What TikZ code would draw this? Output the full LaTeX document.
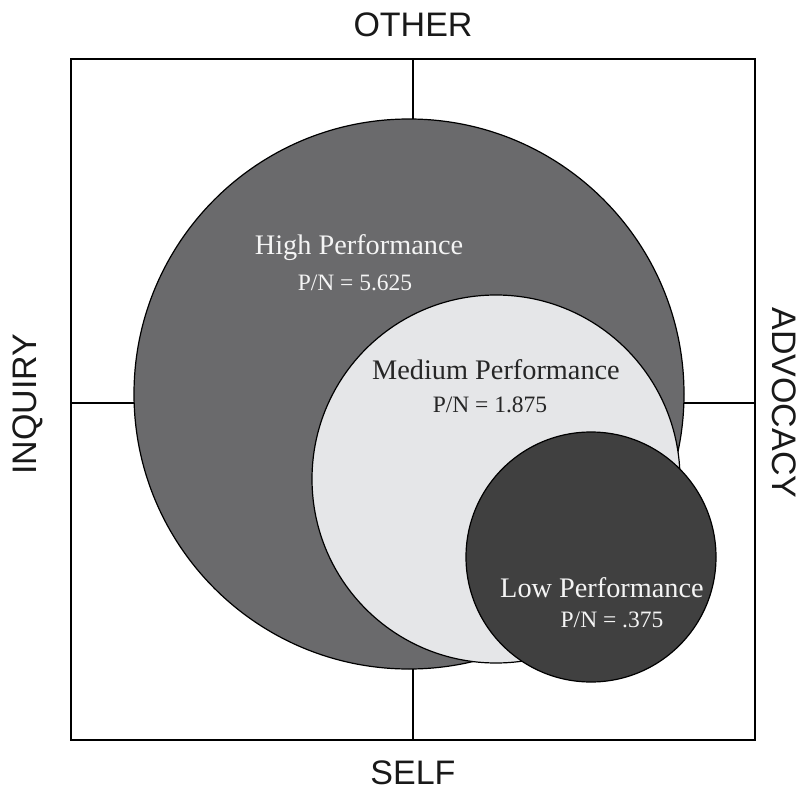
\documentclass[tikz,border=0pt]{standalone}
\usepackage{fontspec}
\setmainfont{Liberation Serif}
\setsansfont{Liberation Sans}
\begin{document}
\begin{tikzpicture}[x=1pt,y=-1pt,
  frame/.style={draw=black,line width=1.2pt},
  disc/.style={draw=black,line width=1.2pt},
  axislabel/.style={font=\sffamily\fontsize{34}{34}\selectfont,text=black!90,inner sep=0pt},
  title/.style={font=\rmfamily\fontsize{28.3}{28.3}\selectfont},
  ratio/.style={font=\rmfamily\fontsize{23.5}{23.5}\selectfont}]
\definecolor{highgray}{HTML}{6A6A6C}
\definecolor{medgray}{HTML}{E5E6E8}
\definecolor{lowgray}{HTML}{404040}
\definecolor{softwhite}{HTML}{F4F4F4}
\useasboundingbox (0,0) rectangle (801,792);
% quadrant frame and axes
\node[draw=none,inner sep=0pt] (tl) at (71,59) {};
\node[draw=none,inner sep=0pt] (br) at (755,740) {};
\coordinate (top) at (413,59);
\coordinate (bot) at (413,740);
\coordinate (lft) at (71,403);
\coordinate (rgt) at (755,403);
\draw[frame] (tl.center) rectangle (br.center);
\draw[frame] (top) -- (bot);
\draw[frame] (lft) -- (rgt);
% performance circles
\node[disc,circle,fill=highgray,minimum size=550pt,inner sep=0pt] (high) at (409,394) {};
\node[disc,circle,fill=medgray,minimum size=368pt,inner sep=0pt] (med) at (496,479) {};
\node[disc,circle,fill=lowgray,minimum size=250pt,inner sep=0pt] (low) at (591,557) {};
% circle captions
\node[title,text=softwhite] (hight) at (359,248) {High Performance};
\node[ratio,text=softwhite] (highr) at (355,283) {P/N = 5.625};
\node[title,text=black!85] (medt) at (496,370) {Medium Performance};
\node[ratio,text=black!85] (medr) at (490,405) {P/N = 1.875};
\node[title,text=softwhite] (lowt) at (602,588) {Low Performance};
\node[ratio,text=softwhite] (lowr) at (612,620) {P/N = .375};
% axis labels
\node[axislabel] (other) at (413,25) {OTHER};
\node[axislabel] (self) at (413,773) {SELF};
\node[axislabel,rotate=90] (inq) at (28,404) {INQUIRY};
\node[axislabel,rotate=-90] (adv) at (784,403) {ADVOCACY};
\end{tikzpicture}
\end{document}
